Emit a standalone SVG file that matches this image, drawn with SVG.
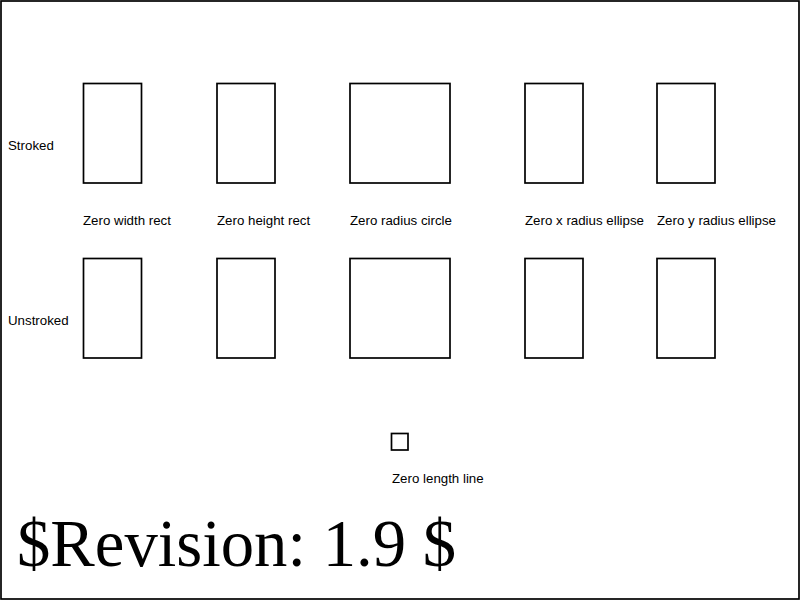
<svg xmlns="http://www.w3.org/2000/svg" width="800" height="600" viewBox="0 0 800 600">
<style>
.box{fill:none;stroke:#000;stroke-width:1.7}
.lbl{font-family:"Liberation Sans",Arial,sans-serif;font-size:13.3px;fill:#000}
.rev{font-family:"Liberation Serif","Times New Roman",serif;font-size:66.7px;fill:#000}
</style>
<rect x="0" y="0" width="800" height="600" fill="#fff"/>
<g id="stroked">
<text class="lbl" x="8" y="150">Stroked</text>
<rect id="s-zero-width" class="box" x="83.5" y="83.5" width="58" height="99.5"/>
<rect id="s-zero-height" class="box" x="217" y="83.5" width="58" height="99.5"/>
<rect id="s-zero-radius" class="box" x="350" y="83.5" width="100" height="99.5"/>
<rect id="s-zero-rx" class="box" x="525" y="83.5" width="58" height="99.5"/>
<rect id="s-zero-ry" class="box" x="657" y="83.5" width="58" height="99.5"/>
</g>
<g id="labels">
<text class="lbl" x="83" y="225">Zero width rect</text>
<text class="lbl" x="217" y="225">Zero height rect</text>
<text class="lbl" x="350" y="225">Zero radius circle</text>
<text class="lbl" x="525" y="225">Zero x radius ellipse</text>
<text class="lbl" x="657" y="225">Zero y radius ellipse</text>
</g>
<g id="unstroked">
<text class="lbl" x="8" y="325">Unstroked</text>
<rect id="u-zero-width" class="box" x="83.5" y="258.5" width="58" height="99.5"/>
<rect id="u-zero-height" class="box" x="217" y="258.5" width="58" height="99.5"/>
<rect id="u-zero-radius" class="box" x="350" y="258.5" width="100" height="99.5"/>
<rect id="u-zero-rx" class="box" x="525" y="258.5" width="58" height="99.5"/>
<rect id="u-zero-ry" class="box" x="657" y="258.5" width="58" height="99.5"/>
</g>
<g id="zero-line">
<rect class="box" x="391.5" y="433.5" width="16.5" height="16.5"/>
<text class="lbl" x="392" y="483">Zero length line</text>
</g>
<g id="connectors"></g>
<text class="rev" x="17" y="566">$Revision: 1.9 $</text>
<rect x="1" y="1" width="798" height="598" fill="none" stroke="#000" stroke-width="1.7"/>
</svg>
